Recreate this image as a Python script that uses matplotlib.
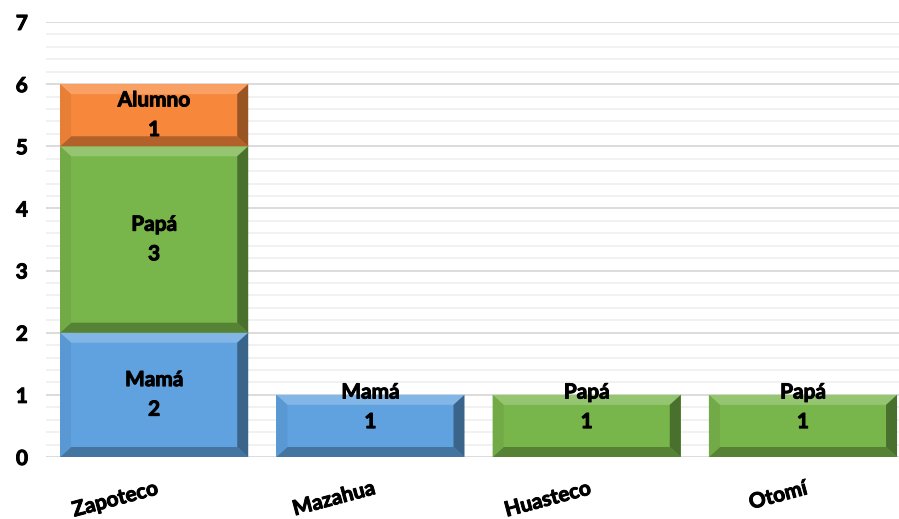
import matplotlib.pyplot as plt
import matplotlib.transforms as mtransforms
import matplotlib.patheffects as pe
from matplotlib.patches import Polygon
from matplotlib.ticker import MultipleLocator
import matplotlib.colors as mcolors
import numpy as np

plt.rcParams['font.family'] = ['Lato', 'DejaVu Sans']
plt.rcParams['font.weight'] = 'bold'

categories = ["Zapoteco", "Mazahua", "Huasteco", "Otomí"]
series = ["Mamá", "Papá", "Alumno"]
mama = [2, 1, 0, 0]
papa = [3, 0, 1, 1]
alumno = [1, 0, 0, 0]
values = [mama, papa, alumno]
colors = ["#5FA2DF", "#78B54A", "#F7873A"]

# label offset for categories with a single segment (Excel pushed these up)
label_dy = [0, 0.3, 0.3, 0.3]

heavy = [pe.withStroke(linewidth=0.7, foreground='black')]


def shade(c, f):
    r = np.array(mcolors.to_rgb(c))
    if f >= 0:
        r = r + (1 - r) * f
    else:
        r = r * (1 + f)
    return tuple(np.clip(r, 0, 1))


fig = plt.figure(figsize=(8.99, 5.19), dpi=100)
ax = fig.add_axes([46 / 899, 1 - 457 / 519, 853 / 899, 435 / 519])

x = np.arange(len(categories))
width = 0.87
bottom = np.zeros(len(categories))
bars = []
for name, vals, col in zip(series, values, colors):
    b = ax.bar(x, vals, width, bottom=bottom, color=col, zorder=3, linewidth=0)
    bars.append((name, vals, col, b))
    bottom += np.array(vals)

ax.set_xlim(-0.5, 3.444)
ax.set_ylim(0, 7)

# bevel size in pixels -> data units
px_x = 853 / (3.444 + 0.5)
px_y = 435 / 7
bev_x = 11 / px_x
bev_y = 10 / px_y

for name, vals, col, b in bars:
    for i, (rect, v) in enumerate(zip(b, vals)):
        if v == 0:
            continue
        x0 = rect.get_x()
        x1 = x0 + rect.get_width()
        y0 = rect.get_y()
        y1 = y0 + rect.get_height()
        ix0, ix1, iy0, iy1 = x0 + bev_x, x1 - bev_x, y0 + bev_y, y1 - bev_y
        faces = [
            ([(x0, y1), (x1, y1), (ix1, iy1), (ix0, iy1)], shade(col, 0.22)),
            ([(x0, y0), (x1, y0), (ix1, iy0), (ix0, iy0)], shade(col, -0.28)),
            ([(x0, y0), (x0, y1), (ix0, iy1), (ix0, iy0)], shade(col, -0.06)),
            ([(x1, y0), (x1, y1), (ix1, iy1), (ix1, iy0)], shade(col, -0.38)),
        ]
        for pts, fc in faces:
            ax.add_patch(Polygon(pts, closed=True, facecolor=fc, edgecolor='none', zorder=4))
        ax.text(x[i], y0 + v / 2 + label_dy[i], f"{name}\n{v}", ha='center', va='center',
                fontsize=15, fontweight='bold', color='black', linespacing=1.6, zorder=5,
                path_effects=heavy)

ax.yaxis.set_major_locator(MultipleLocator(1))
ax.yaxis.set_minor_locator(MultipleLocator(0.2))
ax.grid(which='major', axis='y', color='#D9D9D9', linewidth=1.3, zorder=1)
ax.grid(which='minor', axis='y', color='#F0F0F0', linewidth=1.3, zorder=0)
ax.tick_params(axis='y', which='both', length=0, labelsize=15, pad=13)
for lab in ax.get_yticklabels():
    lab.set_fontweight('bold')
    lab.set_path_effects(heavy)
for s in ax.spines.values():
    s.set_visible(False)

ax.set_xticks([])
trans = ax.get_xaxis_transform() + mtransforms.ScaledTranslation(0.04, -0.31, fig.dpi_scale_trans)
for xi, cat in zip(x, categories):
    ax.text(xi, 0, cat, transform=trans, ha='right', va='center', rotation=15,
            rotation_mode='anchor', fontsize=15, fontweight='bold', color='black',
            path_effects=heavy)

fig.savefig("out.png", dpi=100)
